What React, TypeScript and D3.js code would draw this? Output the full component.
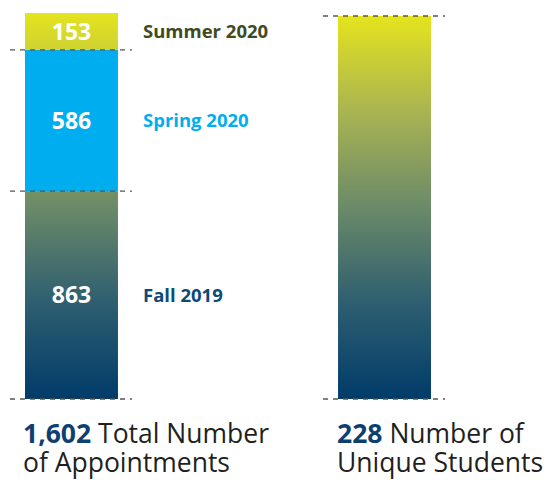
import React from 'react';
import * as d3 from 'd3';

const terms = ['Fall 2019', 'Spring 2020', 'Summer 2020'];
const appointments = [863, 586, 153];
const termColors = ['#0d4a78', '#00aeef', '#3f4b1e'];
const uniqueStudents = 228;
const bars = ['appointments', 'students'];
const captions = [
  ['Total Number', 'of Appointments'],
  ['Number of', 'Unique Students'],
];

const W = 547;
const H = 480;
const baseY = 399;
const font = '"Open Sans", sans-serif';

const gradStops = [
  { o: 0, c: '#e5e41d' },
  { o: 0.25, c: '#a9b452' },
  { o: 0.5, c: '#6b8a68' },
  { o: 0.75, c: '#2e5e70' },
  { o: 1, c: '#003c6a' },
];

export default function App() {
  const total = d3.sum(appointments);
  const x = d3.scaleBand<string>().domain(bars).range([25, 431]).paddingInner(0.703).paddingOuter(0);
  const bw = x.bandwidth();
  const yL = d3.scaleLinear().domain([0, total]).range([baseY, 13]);
  const yR = d3.scaleLinear().domain([0, uniqueStudents]).range([baseY, 16]);

  const stack = appointments.map((v, i) => {
    const start = d3.sum(appointments.slice(0, i));
    return { term: terms[i], value: v, y0: yL(start), y1: yL(start + v), color: termColors[i], i };
  });

  const xl = x('appointments')!;
  const xr = x('students')!;
  const fmt = d3.format(',');

  // dashed guide lines: boundaries between segments and bar ends
  const leftDashes = [yL(0), yL(appointments[0]), yL(appointments[0] + appointments[1])];
  const rightDashes = [yR(0), yR(uniqueStudents)];

  const caption = (cx: number, num: number, lines: string[]) => (
    <text x={cx} y={443} fontSize={26.5} fill="#231f20">
      <tspan fontWeight={700} fill="#0e3f6e">{fmt(num)}</tspan> {lines[0]}
      <tspan x={cx} dy={29}>{lines[1]}</tspan>
    </text>
  );

  return (
    <svg width={W} height={H} style={{ position: 'absolute', left: 0, top: 0, fontFamily: font }}>
      <defs>
        <linearGradient id="gL" gradientUnits="userSpaceOnUse" x1={0} y1={yL(total)} x2={0} y2={yL(0)}>
          {gradStops.map((s) => <stop key={s.o} offset={s.o} stopColor={s.c} />)}
        </linearGradient>
        <linearGradient id="gR" gradientUnits="userSpaceOnUse" x1={0} y1={yR(uniqueStudents)} x2={0} y2={yR(0)}>
          {gradStops.map((s) => <stop key={s.o} offset={s.o} stopColor={s.c} />)}
        </linearGradient>
      </defs>

      {stack.map((d) => (
        <rect key={d.term} x={xl} y={d.y1} width={bw} height={d.y0 - d.y1}
          fill={d.i === 1 ? '#00aeef' : 'url(#gL)'} />
      ))}
      <rect x={xr} y={yR(uniqueStudents)} width={bw} height={yR(0) - yR(uniqueStudents)} fill="url(#gR)" />

      {leftDashes.map((y, i) => (
        <line key={'l' + i} x1={xl - 15} x2={xl + bw + 14} y1={y} y2={y}
          stroke="#555" strokeWidth={1.3} strokeDasharray="5,5" />
      ))}
      {rightDashes.map((y, i) => (
        <line key={'r' + i} x1={xr - 15} x2={xr + bw + 14} y1={y} y2={y}
          stroke="#555" strokeWidth={1.3} strokeDasharray="5,5" />
      ))}

      {stack.map((d) => (
        <g key={'t' + d.term}>
          <text x={xl + bw / 2} y={(d.y0 + d.y1) / 2} dy="0.36em" textAnchor="middle"
            fill="#fff" fontWeight={700} fontSize={23}>{d.value}</text>
          <text x={143} y={(d.y0 + d.y1) / 2} dy="0.36em" fill={d.color}
            fontWeight={700} fontSize={18.5}>{d.term}</text>
        </g>
      ))}

      {caption(xl - 2, total, captions[0])}
      {caption(xr - 1, uniqueStudents, captions[1])}
    </svg>
  );
}
